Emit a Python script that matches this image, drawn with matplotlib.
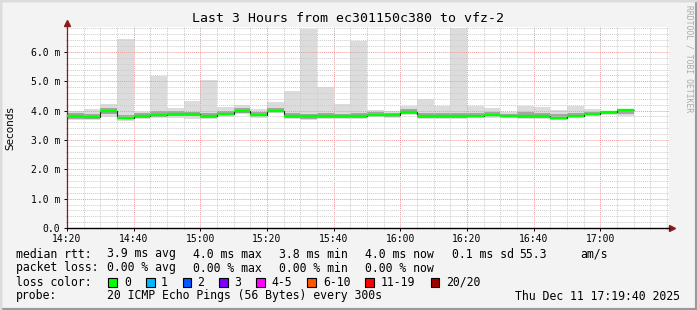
import numpy as np
import matplotlib
matplotlib.use("Agg")
import matplotlib.pyplot as plt
from matplotlib.ticker import MultipleLocator, FixedLocator, FixedFormatter
from matplotlib.patches import Rectangle

# 5 minute steps starting 14:20, minutes from 14:20
step_start = [0, 5, 10, 15, 20, 25, 30, 35, 40, 45, 50, 55, 60, 65, 70, 75, 80,
              85, 90, 95, 100, 105, 110, 115, 120, 125, 130, 135, 140, 145, 150,
              155, 160, 165, 170]

# values in ms
rtt_median = [3.80, 3.78, 4.00, 3.74, 3.82, 3.85, 3.88, 3.88, 3.82, 3.89, 4.00, 3.85,
              4.00, 3.80, 3.80, 3.80, 3.80, 3.80, 3.86, 3.84, 3.97, 3.80, 3.82, 3.80,
              3.83, 3.85, 3.82, 3.82, 3.80, 3.75, 3.82, 3.88, 3.95, 4.02]
rtt_max = [3.99, 4.05, 4.23, 6.44, 3.97, 5.18, 4.08, 4.33, 5.04, 4.12, 4.19, 4.05,
           4.31, 4.68, 6.78, 4.82, 4.23, 6.37, 4.02, 3.98, 4.17, 4.39, 4.17, 6.80,
           4.16, 4.08, 3.95, 4.16, 4.12, 4.02, 4.16, 4.05, 4.00, 4.05]
rtt_min = [3.68, 3.68, 3.79, 3.66, 3.72, 3.74, 3.76, 3.72, 3.72, 3.79, 3.88, 3.76,
           3.92, 3.70, 3.68, 3.70, 3.70, 3.70, 3.78, 3.74, 3.86, 3.70, 3.72, 3.70,
           3.74, 3.76, 3.74, 3.72, 3.70, 3.68, 3.74, 3.80, 3.85, 3.83]
rtt_q_hi = [3.92, 3.90, 4.08, 3.86, 3.92, 3.98, 3.98, 3.97, 3.92, 3.98, 4.10, 3.94,
            4.10, 3.92, 3.90, 3.92, 3.90, 3.93, 3.94, 3.92, 4.07, 3.92, 3.93, 3.92,
            3.93, 3.94, 3.90, 3.95, 3.92, 3.88, 3.92, 3.96, 4.00, 4.05]
rtt_q_lo = [3.72, 3.72, 3.88, 3.70, 3.76, 3.78, 3.80, 3.80, 3.76, 3.84, 3.92, 3.80,
            3.94, 3.74, 3.72, 3.74, 3.74, 3.74, 3.80, 3.78, 3.90, 3.74, 3.76, 3.74,
            3.78, 3.80, 3.78, 3.76, 3.74, 3.72, 3.78, 3.84, 3.90, 3.88]

x_tick_pos = [0, 20, 40, 60, 80, 100, 120, 140, 160]
x_tick_labels = ["14:20", "14:40", "15:00", "15:20", "15:40", "16:00", "16:20", "16:40", "17:00"]
y_tick_pos = [0, 1, 2, 3, 4, 5, 6]
y_tick_labels = ["0.0", "1.0 m", "2.0 m", "3.0 m", "4.0 m", "5.0 m", "6.0 m"]

loss_labels = ["0", "1", "2", "3", "4-5", "6-10", "11-19", "20/20"]
loss_colors = ["#00ff00", "#00b8ff", "#0059ff", "#7e00ff", "#ff00ff", "#ff5500", "#ff0000", "#a10000"]

W, H = 697, 310
MONO = "DejaVu Sans Mono"

fig = plt.figure(figsize=(W / 100, H / 100), dpi=100)
fig.patch.set_facecolor("#f3f3f3")

def fx(px):
    return px / W

def fy(py):
    return 1 - py / H

ax = fig.add_axes([fx(67), fy(228), fx(669 - 67), (228 - 27) / H])
ax.set_facecolor("white")

edges = np.array(step_start, dtype=float)
ax.stairs(rtt_max, edges, baseline=rtt_min, fill=True, color="#dcdcdc", lw=0, zorder=1)
ax.stairs(rtt_q_hi, edges, baseline=rtt_q_lo, fill=True, color="#a5a5a5", lw=0, zorder=1.1)
# median: dark step outline, green level segments
ax.stairs(rtt_median, edges, baseline=None, color="#222222", lw=0.8, zorder=3)
ax.hlines(rtt_median, edges[:-1], edges[1:], color="#00ff00", lw=1.7, zorder=3.5)

ax.set_xlim(0, 180.6)
ax.set_ylim(0, 6.85)

ax.xaxis.set_major_locator(FixedLocator(x_tick_pos))
ax.xaxis.set_major_formatter(FixedFormatter(x_tick_labels))
ax.xaxis.set_minor_locator(MultipleLocator(5))
ax.yaxis.set_major_locator(FixedLocator(y_tick_pos))
ax.yaxis.set_major_formatter(FixedFormatter(y_tick_labels))
ax.yaxis.set_minor_locator(MultipleLocator(0.2))

ax.set_axisbelow("line")
ax.grid(which="minor", color="#cccccc", linestyle=(0, (1, 1)), lw=0.7)
ax.grid(which="major", color="#f29a9a", linestyle=(0, (1, 1)), lw=0.7)

ax.tick_params(which="major", length=2, width=0.7, color="black", labelsize=7,
               direction="out")
ax.tick_params(which="minor", length=1, width=0.6, color="#888888")
ax.tick_params(axis="x", pad=2)
ax.tick_params(axis="y", pad=3)
for lab in ax.get_xticklabels() + ax.get_yticklabels():
    lab.set_family(MONO)

for s in ["top", "right"]:
    ax.spines[s].set_visible(False)
ax.spines["bottom"].set_color("black")
ax.spines["bottom"].set_linewidth(1.0)
ax.spines["left"].set_color("#8b1a1a")
ax.spines["left"].set_linewidth(0.9)

# axis arrows
ax.plot([1.005], [0], marker=">", color="#8b1a1a", ms=4, transform=ax.transAxes, clip_on=False)
ax.plot([0], [1.02], marker="^", color="#8b1a1a", ms=4, transform=ax.transAxes, clip_on=False)

fig.text(fx(348), fy(18), "Last 3 Hours from ec301150c380 to vfz-2", ha="center", va="center",
         family=MONO, size=9.5)
fig.text(fx(10), fy(128), "Seconds", rotation=90, ha="center", va="center",
         family="DejaVu Sans", size=7.5)
fig.text(fx(689), fy(5), "RRDTOOL / TOBI OETIKER", rotation=270, ha="center", va="top",
         family=MONO, size=5.8, color="#aaaaaa")

FS = 8.3
line_y = [254, 268, 282, 296]

row1 = [(16, "median rtt:"), (107.3, "3.9 ms avg"), (192.7, "4.0 ms max"), (279.3, "3.8 ms min"),
        (365, "4.0 ms now"), (451.7, "0.1 ms sd"), (519.3, "55.3"), (580, "am/s")]
row2 = [(16, "packet loss:"), (107.3, "0.00 % avg"), (193.3, "0.00 % max"), (279.3, "0.00 % min"),
        (365, "0.00 % now")]
for (x, t) in row1:
    fig.text(fx(x), fy(line_y[0]), t, ha="left", va="center", family=MONO, size=FS)
for (x, t) in row2:
    fig.text(fx(x), fy(line_y[1]), t, ha="left", va="center", family=MONO, size=FS)

fig.text(fx(16), fy(line_y[2]), "loss color:", ha="left", va="center", family=MONO, size=FS)
box_x = [108.3, 146, 182.7, 219.3, 256, 307.3, 365, 430.7]
lab_x = [124, 161, 197.5, 234, 271, 323, 380.7, 446]
for bx, lx, lab, col in zip(box_x, lab_x, loss_labels, loss_colors):
    fig.patches.append(Rectangle((fx(bx), fy(286.5)), 8.5 / W, 8.5 / H, transform=fig.transFigure,
                                 facecolor=col, edgecolor="black", lw=0.8))
    fig.text(fx(lx), fy(line_y[2]), lab, ha="left", va="center", family=MONO, size=FS)

fig.text(fx(16), fy(line_y[3]), "probe:", ha="left", va="center", family=MONO, size=FS)
fig.text(fx(107.3), fy(line_y[3]), "20 ICMP Echo Pings (56 Bytes) every 300s", ha="left",
         va="center", family=MONO, size=FS)
fig.text(fx(680), fy(line_y[3]), "Thu Dec 11 17:19:40 2025", ha="right", va="center",
         family=MONO, size=FS)

# outer 3d frame
fig.patches.append(Rectangle((0, 0), 1, 1, transform=fig.transFigure, fill=False,
                             edgecolor="#9a9a9a", lw=3))
fig.add_artist(plt.Line2D([0, 0, 1], [0, 1, 1], transform=fig.transFigure, color="#dcdcdc", lw=2.5))

fig.savefig("out.png", dpi=100, facecolor=fig.get_facecolor())
